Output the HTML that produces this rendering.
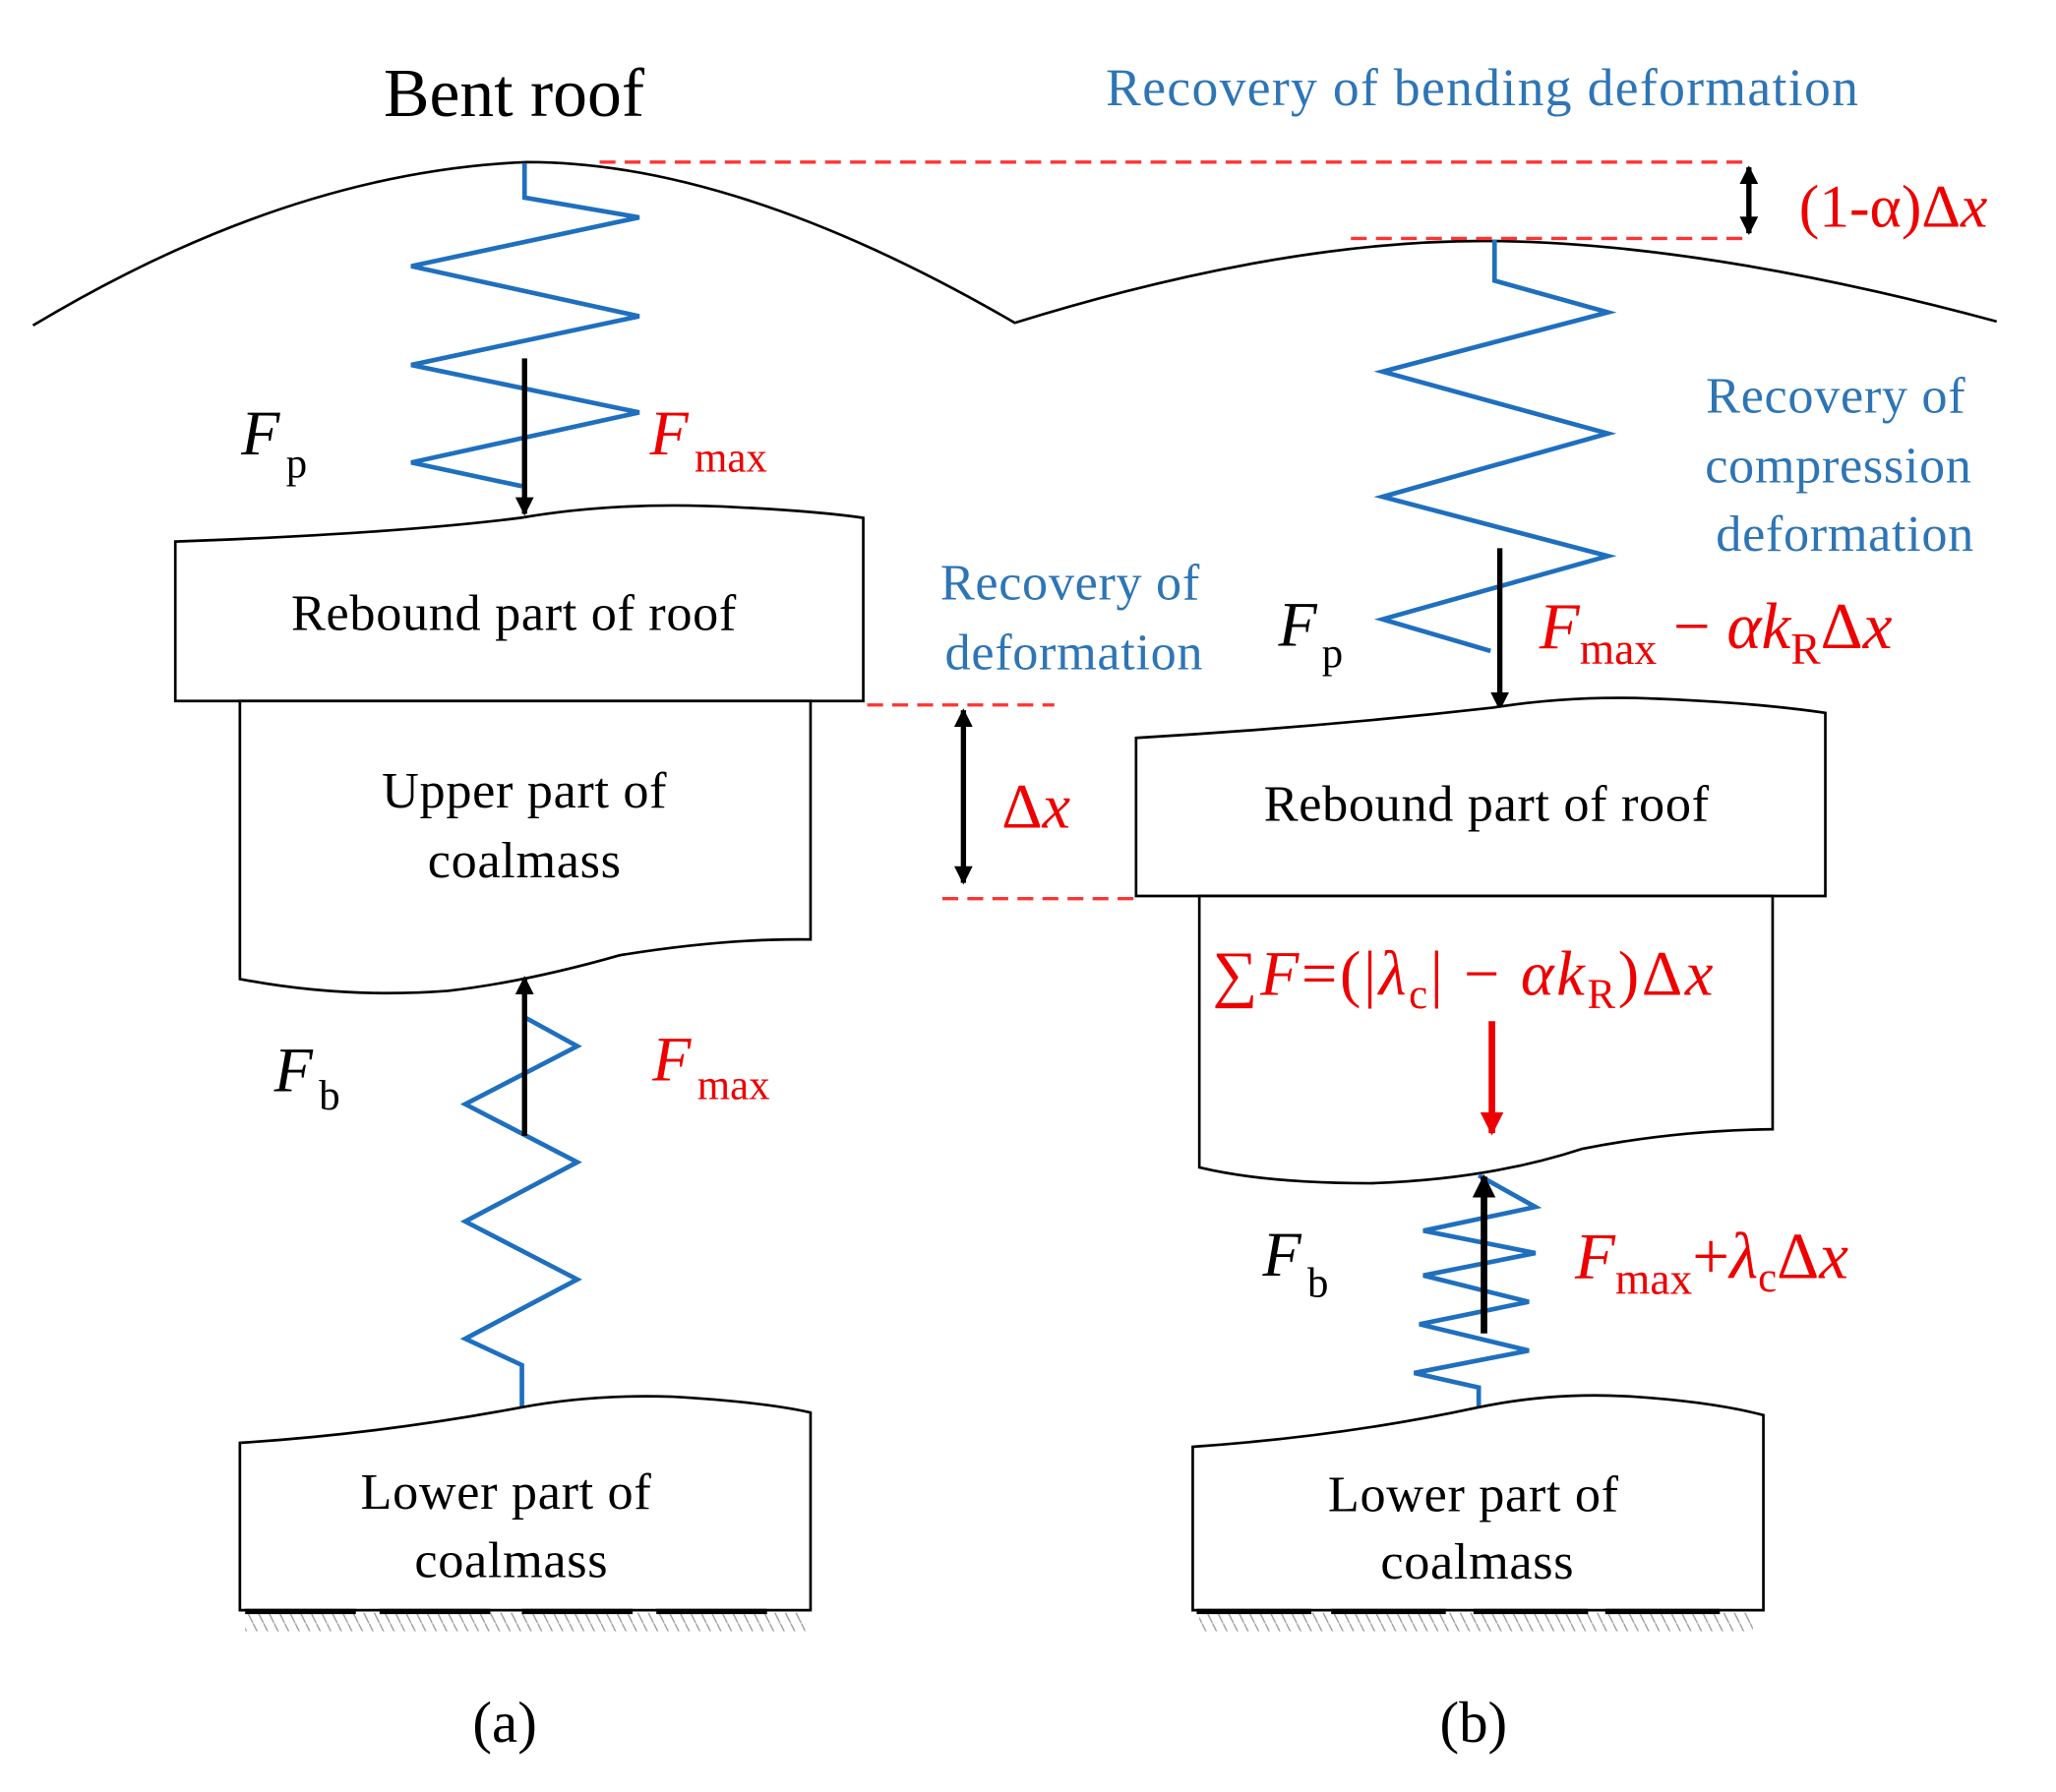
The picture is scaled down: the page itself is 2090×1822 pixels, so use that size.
<!DOCTYPE html>
<html><head><meta charset="utf-8"><style>html,body{margin:0;padding:0;background:#fff}svg{display:block}</style></head>
<body>
<svg width="2090" height="1822" viewBox="0 0 1560 1360" xmlns="http://www.w3.org/2000/svg" font-family="'Liberation Serif', serif">
<defs>
<marker id="ah" viewBox="0 0 10 10" refX="9" refY="5" markerWidth="3.5" markerHeight="3.5" orient="auto-start-reverse"><path d="M0,0 L10,5 L0,10 z" fill="#000"/></marker>
<marker id="ahr" viewBox="0 0 10 10" refX="9" refY="5" markerWidth="3.5" markerHeight="3.5" orient="auto"><path d="M0,0 L10,5 L0,10 z" fill="#e00"/></marker>
<pattern id="hatch" width="8" height="16" patternUnits="userSpaceOnUse"><path d="M0,0 L8,16" stroke="#999" stroke-width="1"/></pattern>
</defs>
<!-- roof -->
<path d="M25,247 Q220,130 400,123 Q560,123 770,245 Q980,180 1140,183 Q1300,186 1515,244" fill="none" stroke="#000" stroke-width="2"/>
<text x="390" y="88" font-size="52" text-anchor="middle">Bent roof</text>
<text x="1125" y="80" font-size="40" text-anchor="middle" fill="#2e75b6" letter-spacing="1">Recovery of bending deformation</text>
<g stroke="#f33" stroke-width="2.5" stroke-dasharray="12,7" fill="none">
<line x1="455" y1="123" x2="1325" y2="123"/><line x1="1025" y1="181" x2="1325" y2="181"/>
<line x1="658" y1="535" x2="800" y2="535"/><line x1="715" y1="682" x2="860" y2="682"/>
</g>
<line x1="1327" y1="127" x2="1327" y2="177" stroke="#000" stroke-width="4" marker-start="url(#ah)" marker-end="url(#ah)"/>
<text x="1365" y="172" font-size="46" fill="#e00">(1-α)Δ<tspan font-style="italic">x</tspan></text>
<!-- left upper spring -->
<polyline points="398,124 398,150 485,165 312,202 485,240 312,277 485,313 312,351 396,369" fill="none" stroke="#1f6fbf" stroke-width="3.5"/>
<line x1="398" y1="272" x2="398" y2="390" stroke="#000" stroke-width="4" marker-end="url(#ah)"/>
<text x="183" y="345" font-size="48" font-style="italic">F</text><text x="217" y="362" font-size="32">p</text>
<text x="493" y="345" font-size="48" font-style="italic" fill="#e00">F</text><text x="527" y="358" font-size="32" fill="#e00">max</text>
<!-- left rebound box -->
<path d="M133,411 Q300,405 395,393 Q470,380 560,385 Q620,388 655,393 L655,532 L133,532 Z" fill="#fff" stroke="#000" stroke-width="2"/>
<text x="390" y="478" font-size="39" text-anchor="middle" letter-spacing="0.5">Rebound part of roof</text>
<!-- left upper coalmass -->
<path d="M182,532 L615,532 L615,713 Q550,712 470,725 Q400,745 340,752 Q260,758 182,743 Z" fill="#fff" stroke="#000" stroke-width="2"/>
<text x="398" y="613" font-size="39" text-anchor="middle" letter-spacing="0.5">Upper part of</text>
<text x="398" y="666" font-size="39" text-anchor="middle" letter-spacing="0.5">coalmass</text>
<line x1="731" y1="539" x2="731" y2="670" stroke="#000" stroke-width="4" marker-start="url(#ah)" marker-end="url(#ah)"/>
<text x="760" y="628" font-size="48" fill="#e00">Δ<tspan font-style="italic">x</tspan></text>
<text x="812" y="455" font-size="39" text-anchor="middle" fill="#2e75b6" letter-spacing="0.5">Recovery of</text>
<text x="815" y="508" font-size="39" text-anchor="middle" fill="#2e75b6" letter-spacing="0.5">deformation</text>
<!-- left lower spring -->
<polyline points="398,772 438,794 353,838 438,882 353,927 438,971 353,1016 396,1036 396,1070" fill="none" stroke="#1f6fbf" stroke-width="3.5"/>
<line x1="398" y1="862" x2="398" y2="742" stroke="#000" stroke-width="4" marker-end="url(#ah)"/>
<text x="208" y="828" font-size="48" font-style="italic">F</text><text x="242" y="842" font-size="32">b</text>
<text x="495" y="820" font-size="48" font-style="italic" fill="#e00">F</text><text x="529" y="834" font-size="32" fill="#e00">max</text>
<!-- left lower box -->
<path d="M182,1095 Q290,1088 396,1068 Q450,1058 510,1060 Q580,1064 615,1072 L615,1222 L182,1222 Z" fill="#fff" stroke="#000" stroke-width="2"/>
<text x="384" y="1145" font-size="39" text-anchor="middle" letter-spacing="0.5">Lower part of</text>
<text x="388" y="1197" font-size="39" text-anchor="middle" letter-spacing="0.5">coalmass</text>
<rect x="186" y="1224" width="425" height="14" fill="url(#hatch)"/>
<path d="M186,1223 H270 M288,1223 H372 M396,1223 H480 M498,1223 H582" stroke="#000" stroke-width="4"/>
<text x="383" y="1322" font-size="44" text-anchor="middle">(a)</text>
<!-- right upper spring -->
<polyline points="1134,182 1134,213 1220,237 1049,282 1220,329 1049,377 1220,422 1049,470 1131,494" fill="none" stroke="#1f6fbf" stroke-width="3.5"/>
<line x1="1138" y1="416" x2="1138" y2="538" stroke="#000" stroke-width="4" marker-end="url(#ah)"/>
<text x="1393" y="313" font-size="39" text-anchor="middle" fill="#2e75b6" letter-spacing="0.5">Recovery of</text>
<text x="1395" y="366" font-size="39" text-anchor="middle" fill="#2e75b6" letter-spacing="0.5">compression</text>
<text x="1400" y="418" font-size="39" text-anchor="middle" fill="#2e75b6" letter-spacing="0.5">deformation</text>
<text x="970" y="490" font-size="48" font-style="italic">F</text><text x="1003" y="506" font-size="32">p</text>
<text x="1168" y="492" font-size="50" fill="#e00"><tspan font-style="italic">F</tspan><tspan font-size="34" dy="12">max</tspan><tspan dy="-12"> − </tspan><tspan font-style="italic">αk</tspan><tspan font-size="34" dy="12">R</tspan><tspan dy="-12">Δ</tspan><tspan font-style="italic">x</tspan></text>
<!-- right rebound box -->
<path d="M862,560 Q1000,552 1133,537 Q1190,528 1250,530 Q1330,533 1385,541 L1385,680 L862,680 Z" fill="#fff" stroke="#000" stroke-width="2"/>
<text x="1128" y="623" font-size="39" text-anchor="middle" letter-spacing="0.5">Rebound part of roof</text>
<!-- right coalmass -->
<path d="M910,680 L1345,680 L1345,857 Q1270,858 1200,872 Q1130,895 1040,898 Q960,898 910,886 Z" fill="#fff" stroke="#000" stroke-width="2"/>
<text x="920" y="755" font-size="48" fill="#e00" letter-spacing="2">∑<tspan font-style="italic">F</tspan>=(|<tspan font-style="italic">λ</tspan><tspan font-size="32" dy="10">c</tspan><tspan dy="-10">| − </tspan><tspan font-style="italic">αk</tspan><tspan font-size="32" dy="10">R</tspan><tspan dy="-10">)Δ</tspan><tspan font-style="italic">x</tspan></text>
<line x1="1132" y1="775" x2="1132" y2="860" stroke="#e00" stroke-width="5" marker-end="url(#ahr)"/>
<!-- right lower spring -->
<polyline points="1122,892 1165,916 1080,934 1165,951 1080,968 1160,988 1077,1005 1160,1025 1073,1042 1122,1053 1122,1070" fill="none" stroke="#1f6fbf" stroke-width="3.5"/>
<line x1="1126" y1="1012" x2="1126" y2="893" stroke="#000" stroke-width="5" marker-end="url(#ah)"/>
<text x="958" y="968" font-size="48" font-style="italic">F</text><text x="992" y="984" font-size="32">b</text>
<text x="1195" y="970" font-size="50" fill="#e00"><tspan font-style="italic">F</tspan><tspan font-size="34" dy="12">max</tspan><tspan dy="-12">+</tspan><tspan font-style="italic">λ</tspan><tspan font-size="32" dy="10">c</tspan><tspan dy="-10">Δ</tspan><tspan font-style="italic">x</tspan></text>
<!-- right lower box -->
<path d="M905,1098 Q1020,1090 1122,1068 Q1180,1056 1240,1060 Q1300,1064 1338,1074 L1338,1222 L905,1222 Z" fill="#fff" stroke="#000" stroke-width="2"/>
<text x="1118" y="1147" font-size="39" text-anchor="middle" letter-spacing="0.5">Lower part of</text>
<text x="1121" y="1198" font-size="39" text-anchor="middle" letter-spacing="0.5">coalmass</text>
<rect x="910" y="1224" width="420" height="14" fill="url(#hatch)"/>
<path d="M908,1223 H995 M1010,1223 H1097 M1118,1223 H1205 M1218,1223 H1305" stroke="#000" stroke-width="4"/>
<text x="1118" y="1322" font-size="44" text-anchor="middle">(b)</text>
</svg>
</body></html>
